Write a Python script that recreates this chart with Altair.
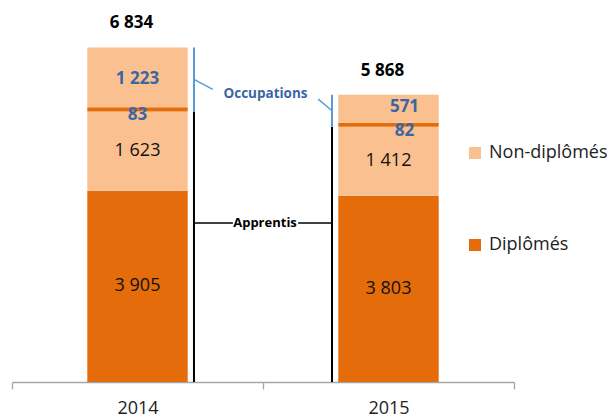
import altair as alt
import pandas as pd

# ---- data ----
years = ["2014", "2015"]
dipl_apprentis = [3905, 3803]
nondipl_apprentis = [1623, 1412]
dipl_occupations = [83, 82]
nondipl_occupations = [1223, 571]
statuses = ["Non-diplômés", "Diplômés"]
group_labels = ["Apprentis", "Occupations"]

# ---- styles ----
LIGHT = "#FAC090"
DARK = "#E46C0A"
BLUE_TXT = "#3A66A4"
BLUE_LINE = "#5B9BD5"
FONT = "Open Sans"
HALF_BAR = 0.2          # half bar width in x units
BRACKET_GAP = 0.225     # bracket distance from bar centre
PX = 7600 / 372         # data units per pixel (vertical)


def fmt(v):
    return f"{v:,}".replace(",", " ")


def label_shift(grp, st, i):
    """vertical pixel shift (down positive) of a segment label"""
    if grp != "Occupations":
        return 0
    if st == "Diplômés":
        return 6
    return 2 if i == 0 else -2


seg_rows, tot_rows, br_rows = [], [], []
for i, yr in enumerate(years):
    xc = i + 0.5
    toward = 1 if i == 0 else -1
    base = 0
    parts = [("Apprentis", "Diplômés", dipl_apprentis[i]),
             ("Apprentis", "Non-diplômés", nondipl_apprentis[i]),
             ("Occupations", "Diplômés", dipl_occupations[i]),
             ("Occupations", "Non-diplômés", nondipl_occupations[i])]
    for grp, st, v in parts:
        lx = xc + (16 / 251 if (grp == "Occupations" and i == 1) else 0)
        ly = base + v / 2 - label_shift(grp, st, i) * PX
        seg_rows.append(dict(year=yr, xl=xc - HALF_BAR, xr=xc + HALF_BAR, group=grp,
                             status=st, y0=base, y1=base + v, lx=lx, ly=ly, label=fmt(v)))
        base += v
    app_top = dipl_apprentis[i] + nondipl_apprentis[i]
    tot_rows.append(dict(year=yr, xc=xc, total=base, label=fmt(base)))
    bx = xc + toward * BRACKET_GAP
    br_rows.append(dict(year=yr, bx=bx, y0=0, y1=app_top, y2=base,
                        occ_mid=(app_top + base) / 2, toward=toward))

seg = pd.DataFrame(seg_rows)
tot = pd.DataFrame(tot_rows)
br = pd.DataFrame(br_rows)

# annotation anchors (x units, data units)
APP_Y = 3250
OCC_X, OCC_Y = 1.01, 5880
lead = pd.DataFrame([
    dict(x=r.bx, y=r.occ_mid, x2=OCC_X - r.toward * 0.21, y2=OCC_Y + r.toward * 100)
    for r in br.itertuples()
])
conn = pd.DataFrame([
    dict(x=br.bx[0], x2=0.88, y=APP_Y),
    dict(x=1.14, x2=br.bx[1], y=APP_Y),
])
ann = pd.DataFrame([
    dict(x=1.008, y=APP_Y, label=group_labels[0], kind="a"),
    dict(x=OCC_X, y=OCC_Y, label=group_labels[1], kind="o"),
])

label_expr = " : ".join(
    [f"datum.value == {i + 0.5} ? '{y}'" for i, y in enumerate(years)]) + " : ''"

xscale = alt.Scale(domain=[0, 2], nice=False, zero=False)
yscale = alt.Scale(domain=[0, 7600], nice=False)
xaxis = alt.Axis(values=[0, 0.5, 1, 1.5, 2], labelExpr=label_expr, tickSize=7,
                 tickColor="#A6A6A6", domainColor="#A6A6A6", domainWidth=1.3,
                 tickWidth=1.3, grid=False, title=None, labelFont=FONT,
                 labelFontSize=18, labelColor="#222222", labelPadding=10,
                 labelFlush=False, labelOverlap=False,
                 tickOpacity={"condition": {"test": "datum.value % 1 !== 0", "value": 0},
                              "value": 1})


def X(field):
    return alt.X(field, type="quantitative", scale=xscale, axis=xaxis)


def Y(field):
    return alt.Y(field, type="quantitative", scale=yscale, axis=None)


bars = alt.Chart(seg).mark_bar().encode(
    x=X("xl"), x2="xr", y=Y("y0"), y2="y1",
    color=alt.Color("status:N", scale=alt.Scale(domain=statuses, range=[LIGHT, DARK]),
                    legend=alt.Legend(title=None, orient="none", legendX=454, legendY=134,
                                      symbolType="square", symbolSize=144,
                                      symbolStrokeWidth=0, labelFont=FONT,
                                      labelFontSize=18, labelColor="#222222",
                                      rowPadding=74, labelOffset=5, padding=0)),
)

app_txt = alt.Chart(seg).transform_filter("datum.group == 'Apprentis'").mark_text(
    font=FONT, fontSize=18, color="#111111").encode(x=X("lx"), y=Y("ly"), text="label")

occ_txt = alt.Chart(seg).transform_filter("datum.group == 'Occupations'").mark_text(
    font=FONT, fontSize=17, fontWeight="bold", color=BLUE_TXT).encode(
    x=X("lx"), y=Y("ly"), text="label")

tot_txt = alt.Chart(tot).mark_text(font=FONT, fontSize=17, fontWeight="bold",
                                   color="#000000", dy=-24, dx=-6).encode(
    x=X("xc"), y=Y("total"), text="label")

black_br = alt.Chart(br).mark_rule(color="#000000", strokeWidth=2).encode(
    x=X("bx"), y=Y("y0"), y2="y1")
blue_br = alt.Chart(br).mark_rule(color=BLUE_LINE, strokeWidth=2).encode(
    x=X("bx"), y=Y("y1"), y2="y2")
lead_l = alt.Chart(lead).mark_rule(color=BLUE_LINE, strokeWidth=1.5).encode(
    x=X("x"), y=Y("y"), x2="x2", y2="y2")
conn_l = alt.Chart(conn).mark_rule(color="#000000", strokeWidth=1.5).encode(
    x=X("x"), x2="x2", y=Y("y"))

ann_a = alt.Chart(ann).transform_filter("datum.kind == 'a'").mark_text(
    font=FONT, fontSize=13, fontWeight="bold", color="#000000").encode(
    x=X("x"), y=Y("y"), text="label")
ann_o = alt.Chart(ann).transform_filter("datum.kind == 'o'").mark_text(
    font=FONT, fontSize=13.5, fontWeight="bold", color=BLUE_TXT).encode(
    x=X("x"), y=Y("y"), text="label")

chart = alt.layer(bars, black_br, blue_br, lead_l, conn_l, app_txt, occ_txt, tot_txt,
                  ann_a, ann_o).properties(
    width=502, height=372,
    autosize=alt.AutoSizeParams(type="none"),
    padding={"left": 12, "top": 10, "right": 93, "bottom": 35},
    background="white",
).configure_view(stroke=None)

chart.save("out.html", embed_options={"renderer": "svg", "actions": False})
